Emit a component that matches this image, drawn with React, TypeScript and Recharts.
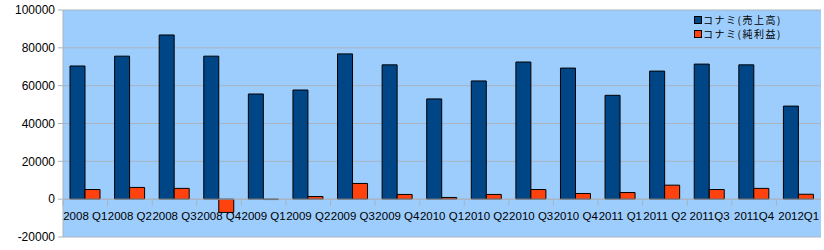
import {
  BarChart,
  Bar,
  XAxis,
  YAxis,
  CartesianGrid,
  ReferenceLine,
} from "recharts";

const quarters = [
  "2008 Q1", "2008 Q2", "2008 Q3", "2008 Q4",
  "2009 Q1", "2009 Q2", "2009 Q3", "2009 Q4",
  "2010 Q1", "2010 Q2", "2010 Q3", "2010 Q4",
  "2011 Q1", "2011 Q2", "2011Q3", "2011Q4",
  "2012Q1",
];

// コナミ(売上高)
const sales = [
  70400, 75600, 86800, 75600,
  55600, 57700, 76800, 71000,
  53000, 62500, 72500, 69300,
  54900, 67700, 71400, 71000,
  49200,
];

// コナミ(純利益)
const netIncome = [
  5100, 6200, 5700, -7000,
  -200, 1400, 8300, 2500,
  900, 2500, 5100, 3000,
  3500, 7400, 5100, 5700,
  2600,
];

const yTicks = [-20000, 0, 20000, 40000, 60000, 80000, 100000];

const SERIES = [
  { key: "sales", name: "コナミ(売上高)", color: "#004586" },
  { key: "net", name: "コナミ(純利益)", color: "#ff420e" },
];

const data = quarters.map((q, i) => ({
  q,
  sales: sales[i],
  net: netIncome[i],
}));

const GRID = "#a9b4c0";

// category label drawn up near the zero line, with small boundary ticks
function QuarterTick(props: any) {
  const { x, y, payload } = props;
  const half = payload?.offset ?? 22;
  const zeroY = y - 45;
  return (
    <g>
      <line x1={x - half} x2={x - half} y1={zeroY} y2={zeroY + 6} stroke={GRID} />
      <text
        x={x}
        y={y - 25}
        textAnchor="middle"
        fontSize={11.5}
        fontFamily="Arial, 'Liberation Sans', sans-serif"
        fill="#000"
      >
        {payload.value}
      </text>
    </g>
  );
}

function LegendBox() {
  return (
    <div
      style={{
        position: "absolute",
        left: 694,
        top: 13,
        fontFamily: "'Noto Sans CJK JP', sans-serif",
        fontSize: 10,
        lineHeight: "14px",
        letterSpacing: 1.5,
      }}
    >
      {SERIES.map((s) => (
        <div key={s.key} style={{ display: "flex", alignItems: "center" }}>
          <span
            style={{
              display: "inline-block",
              width: 6,
              height: 6,
              background: s.color,
              border: "1px solid #000",
              marginRight: 1,
            }}
          />
          <span style={{ color: "#000" }}>{s.name}</span>
        </div>
      ))}
    </div>
  );
}

export default function App() {
  return (
    <div style={{ position: "absolute", left: 0, top: 0, width: 824, height: 250, background: "#fff" }}>
      <BarChart
        width={824}
        height={250}
        data={data}
        margin={{ top: 10, right: 3, bottom: 0, left: 0 }}
        barGap={0}
        barSize={15}
      >
        <CartesianGrid fill="#9dcdfc" stroke={GRID} vertical={false} />
        <XAxis
          dataKey="q"
          height={13}
          axisLine={false}
          tickLine={false}
          interval={0}
          tick={<QuarterTick />}
        />
        <YAxis
          width={63}
          domain={[-20000, 100000]}
          ticks={yTicks}
          interval={0}
          tick={{ fontSize: 12, fill: "#000", fontFamily: "Arial, 'Liberation Sans', sans-serif" }}
          tickSize={5}
          tickMargin={3}
          tickLine={{ stroke: GRID }}
          axisLine={{ stroke: GRID }}
        />
        <ReferenceLine y={0} stroke={GRID} />
        {SERIES.map((s) => (
          <Bar
            key={s.key}
            dataKey={s.key}
            name={s.name}
            fill={s.color}
            stroke="#000"
            strokeWidth={1}
            isAnimationActive={false}
          />
        ))}
      </BarChart>
      <LegendBox />
    </div>
  );
}
